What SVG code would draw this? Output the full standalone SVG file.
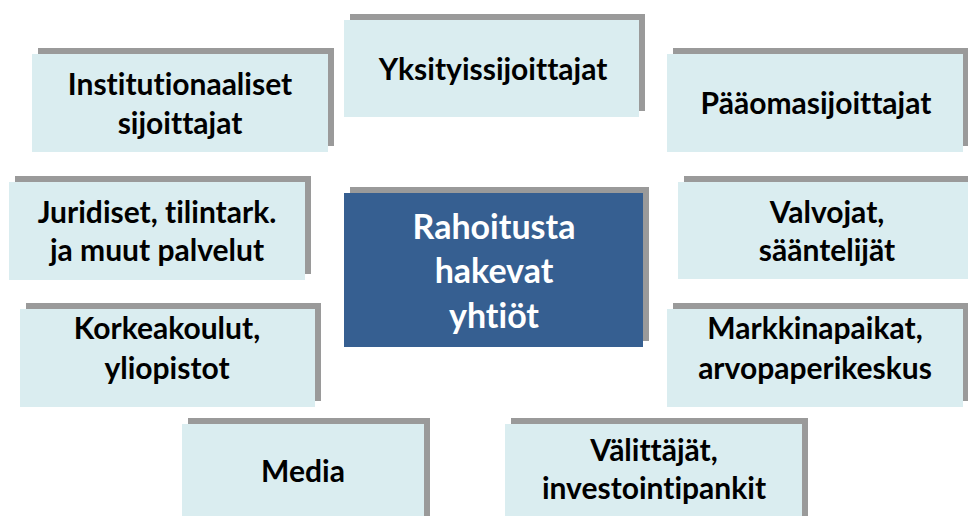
<svg xmlns="http://www.w3.org/2000/svg" width="968" height="516" viewBox="0 0 968 516">
<style>
.sh{fill:#9a9a9a}
.bx{fill:#daedf0}
.cb{fill:#365f91}
.t{font-family:Lato,"Liberation Sans",sans-serif;font-weight:bold;font-size:30px;fill:#000;text-anchor:middle;font-variant-ligatures:none}
.tc{font-family:Lato,"Liberation Sans",sans-serif;font-weight:bold;font-size:34px;fill:#fff;text-anchor:middle;font-variant-ligatures:none}
</style>
<rect width="968" height="516" fill="#fff"/>
<g id="connectors"></g>
<g id="n-inst">
<rect class="sh" x="38" y="48" width="296" height="98"/>
<rect class="bx" x="32" y="54" width="296" height="98"/>
<text class="t" x="180" y="95">Institutionaaliset</text>
<text class="t" x="180" y="134">sijoittajat</text>
</g>
<g id="n-yks">
<rect class="sh" x="350" y="14" width="295" height="97"/>
<rect class="bx" x="344" y="20" width="295" height="97"/>
<text class="t" x="493" y="80">Yksityissijoittajat</text>
</g>
<g id="n-paa">
<rect class="sh" x="673" y="48" width="295" height="98"/>
<rect class="bx" x="667" y="54" width="296" height="98"/>
<text class="t" x="816" y="114">Pääomasijoittajat</text>
</g>
<g id="n-jur">
<rect class="sh" x="15" y="176" width="296" height="98"/>
<rect class="bx" x="9" y="182" width="296" height="98"/>
<text class="t" x="157" y="223">Juridiset, tilintark.</text>
<text class="t" x="157" y="261">ja muut palvelut</text>
</g>
<g id="n-val">
<rect class="sh" x="684" y="176" width="290" height="97"/>
<rect class="bx" x="678" y="182" width="296" height="97"/>
<text class="t" x="827" y="223">Valvojat,</text>
<text class="t" x="827" y="261">sääntelijät</text>
</g>
<g id="n-center">
<rect class="sh" x="350" y="187" width="299" height="154"/>
<rect class="cb" x="344" y="193" width="299" height="154"/>
<text class="tc" x="494" y="239">Rahoitusta</text>
<text class="tc" x="494" y="283">hakevat</text>
<text class="tc" x="494" y="328">yhtiöt</text>
</g>
<g id="n-kor">
<rect class="sh" x="26" y="303" width="295" height="98"/>
<rect class="bx" x="20" y="309" width="295" height="98"/>
<text class="t" x="167" y="339">Korkeakoulut,</text>
<text class="t" x="167" y="379">yliopistot</text>
</g>
<g id="n-mar">
<rect class="sh" x="673" y="303" width="295" height="98"/>
<rect class="bx" x="667" y="309" width="296" height="98"/>
<text class="t" x="815" y="339">Markkinapaikat,</text>
<text class="t" x="815" y="379">arvopaperikeskus</text>
</g>
<g id="n-med">
<rect class="sh" x="188" y="418" width="242" height="98"/>
<rect class="bx" x="182" y="424" width="242" height="98"/>
<text class="t" x="303" y="482">Media</text>
</g>
<g id="n-vak">
<rect class="sh" x="511" y="418" width="297" height="98"/>
<rect class="bx" x="505" y="424" width="297" height="98"/>
<text class="t" x="654" y="461">Välittäjät,</text>
<text class="t" x="654" y="499">investointipankit</text>
</g>
</svg>
